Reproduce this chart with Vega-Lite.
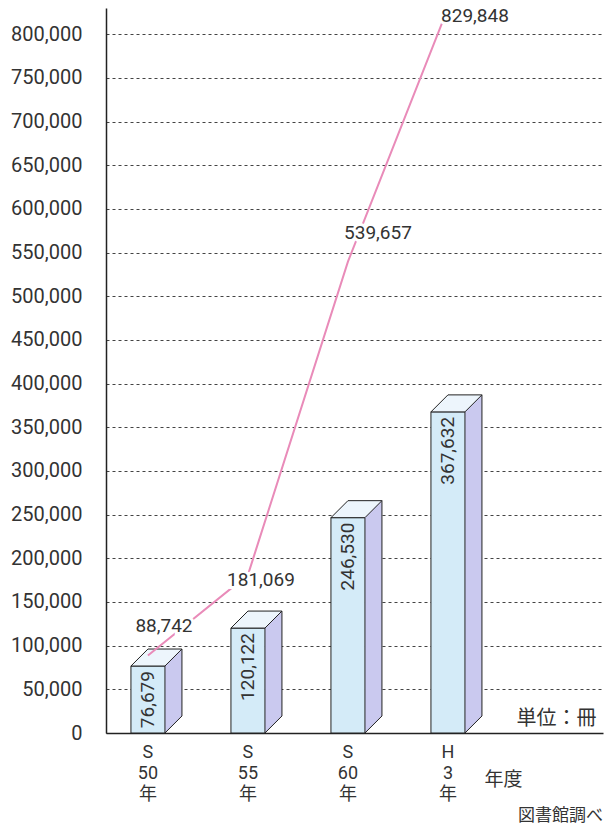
{
  "$schema": "https://vega.github.io/schema/vega-lite/v6.json",
  "autosize": {"type": "none"},
  "padding": {"left": 106, "top": 8, "right": 4, "bottom": 94},
  "width": 497,
  "height": 725,
  "background": "white",
  "config": {
    "view": {"stroke": null},
    "font": "Roboto",
    "text": {"font": "Roboto"}
  },
  "title": {
    "text": "図書館調べ",
    "orient": "bottom",
    "anchor": "end",
    "font": "Noto Sans CJK JP",
    "fontSize": 17,
    "fontWeight": "normal",
    "color": "#333",
    "offset": 5
  },
  "data": {
    "values": [
      {"year": "S 50 年", "books": 76679, "total": 88742},
      {"year": "S 55 年", "books": 120122, "total": 181069},
      {"year": "S 60 年", "books": 246530, "total": 539657},
      {"year": "H 3 年", "books": 367632, "total": 829848}
    ]
  },
  "encoding": {
    "x": {
      "field": "year",
      "type": "nominal",
      "sort": null,
      "scale": {"paddingInner": 0.66, "paddingOuter": 0.815, "align": 0.153},
      "axis": {
        "labelExpr": "split(datum.label, ' ')",
        "labelAngle": 0,
        "labelFont": "Roboto, Noto Sans CJK JP",
        "labelFontSize": 18,
        "labelLineHeight": 21,
        "labelColor": "#333",
        "labelPadding": 10,
        "labelBaseline": "top",
        "ticks": false,
        "domainColor": "#222",
        "domainWidth": 1.5,
        "grid": false,
        "title": "年度",
        "titleFont": "Noto Sans CJK JP",
        "titleFontSize": 19,
        "titleFontWeight": "normal",
        "titleColor": "#333",
        "titleAngle": 0,
        "titleAlign": "center",
        "titleBaseline": "middle",
        "titleX": 397,
        "titleY": 46
      }
    }
  },
  "layer": [
    {
      "mark": {"type": "bar", "width": 17, "xOffset": 25.5, "yOffset": -17, "fill": "#cac9ef", "strokeWidth": 0},
      "encoding": {
        "y": {
          "field": "books",
          "type": "quantitative",
          "scale": {"domain": [0, 830000], "nice": false},
          "axis": {
            "values": [0, 50000, 100000, 150000, 200000, 250000, 300000, 350000, 400000, 450000, 500000, 550000, 600000, 650000, 700000, 750000, 800000],
            "format": ",",
            "labelExpr": "format(datum.value, ',')",
            "labelFont": "Roboto",
            "labelFontSize": 20,
            "labelColor": "#333",
            "labelPadding": 24,
            "ticks": false,
            "domainColor": "#222",
            "domainWidth": 1.5,
            "gridColor": "#444",
            "gridDash": [3, 3],
            "gridWidth": 1.2,
            "title": "単位：冊",
            "titleFont": "Noto Sans CJK JP",
            "titleFontSize": 20,
            "titleFontWeight": "normal",
            "titleColor": "#333",
            "titleAngle": 0,
            "titleAlign": "center",
            "titleBaseline": "middle",
            "titleX": 450,
            "titleY": 710
          }
        }
      }
    },
    {
      "mark": {"type": "point", "shape": "M -1 1 L -1 -1.2 L 1 -1.2 L 1 -1 Z", "size": 289, "filled": true, "fill": "#cac9ef", "strokeWidth": 0, "opacity": 1, "xOffset": 25.5, "yOffset": -8.5},
      "encoding": {"y": {"datum": 0, "type": "quantitative"}}
    },
    {
      "mark": {"type": "point", "shape": "M -1 1 L 1 -1", "size": 289, "filled": false, "fill": "transparent", "stroke": "#222", "strokeWidth": 1, "opacity": 1, "xOffset": 25.5, "yOffset": -8.5},
      "encoding": {"y": {"datum": 0, "type": "quantitative"}}
    },
    {
      "mark": {"type": "rule", "stroke": "#222", "strokeWidth": 1, "xOffset": 34, "yOffset": -17, "y2Offset": -17},
      "encoding": {"y": {"field": "books", "type": "quantitative"}, "y2": {"datum": 0}}
    },
    {
      "mark": {"type": "bar", "width": 34, "fill": "#d4ebf8", "stroke": "#222", "strokeWidth": 1},
      "encoding": {"y": {"field": "books", "type": "quantitative"}}
    },
    {
      "mark": {"type": "point", "shape": "M -2 0 L 2 0 L 4 -2 L 0 -2 Z", "size": 289, "filled": true, "fill": "#edf5fc", "stroke": "#222", "strokeWidth": 1, "opacity": 1},
      "encoding": {"y": {"field": "books", "type": "quantitative"}}
    },
    {
      "mark": {"type": "text", "angle": 270, "align": "right", "baseline": "middle", "yOffset": 5, "font": "Roboto", "fontSize": 19, "fill": "#333"},
      "encoding": {
        "y": {"field": "books", "type": "quantitative"},
        "text": {"field": "books", "type": "quantitative", "format": ","}
      }
    },
    {
      "mark": {"type": "line", "stroke": "#e98bb9", "strokeWidth": 2},
      "encoding": {"y": {"field": "total", "type": "quantitative"}}
    },
    {
      "transform": [{"filter": "datum.year == 'S 50 年'"}],
      "encoding": {
        "y": {"field": "total", "type": "quantitative"},
        "text": {"field": "total", "type": "quantitative", "format": ","}
      },
      "layer": [
        {"mark": {"type": "text", "align": "center", "baseline": "middle", "dx": 16, "dy": -29, "font": "Roboto", "fontSize": 19, "stroke": "white", "strokeWidth": 6, "fill": "white"}},
        {"mark": {"type": "text", "align": "center", "baseline": "middle", "dx": 16, "dy": -29, "font": "Roboto", "fontSize": 19, "fill": "#333"}}
      ]
    },
    {
      "transform": [{"filter": "datum.year == 'S 60 年'"}],
      "encoding": {
        "y": {"field": "total", "type": "quantitative"},
        "text": {"field": "total", "type": "quantitative", "format": ","}
      },
      "layer": [
        {"mark": {"type": "text", "align": "center", "baseline": "middle", "dx": 30, "dy": -29, "font": "Roboto", "fontSize": 19, "stroke": "white", "strokeWidth": 6, "fill": "white"}},
        {"mark": {"type": "text", "align": "center", "baseline": "middle", "dx": 30, "dy": -29, "font": "Roboto", "fontSize": 19, "fill": "#333"}}
      ]
    },
    {
      "transform": [{"filter": "datum.year == 'S 55 年'"}],
      "encoding": {
        "y": {"field": "total", "type": "quantitative"},
        "text": {"field": "total", "type": "quantitative", "format": ","}
      },
      "layer": [
        {"mark": {"type": "text", "align": "center", "baseline": "middle", "dx": 13, "dy": 5, "font": "Roboto", "fontSize": 19, "stroke": "white", "strokeWidth": 6, "fill": "white"}},
        {"mark": {"type": "text", "align": "center", "baseline": "middle", "dx": 13, "dy": 5, "font": "Roboto", "fontSize": 19, "fill": "#333"}}
      ]
    },
    {
      "transform": [{"filter": "datum.year == 'H 3 年'"}],
      "encoding": {
        "y": {"field": "total", "type": "quantitative"},
        "text": {"field": "total", "type": "quantitative", "format": ","}
      },
      "layer": [
        {"mark": {"type": "text", "align": "center", "baseline": "middle", "dx": 27, "dy": 8, "font": "Roboto", "fontSize": 19, "stroke": "white", "strokeWidth": 6, "fill": "white"}},
        {"mark": {"type": "text", "align": "center", "baseline": "middle", "dx": 27, "dy": 8, "font": "Roboto", "fontSize": 19, "fill": "#333"}}
      ]
    }
  ]
}
